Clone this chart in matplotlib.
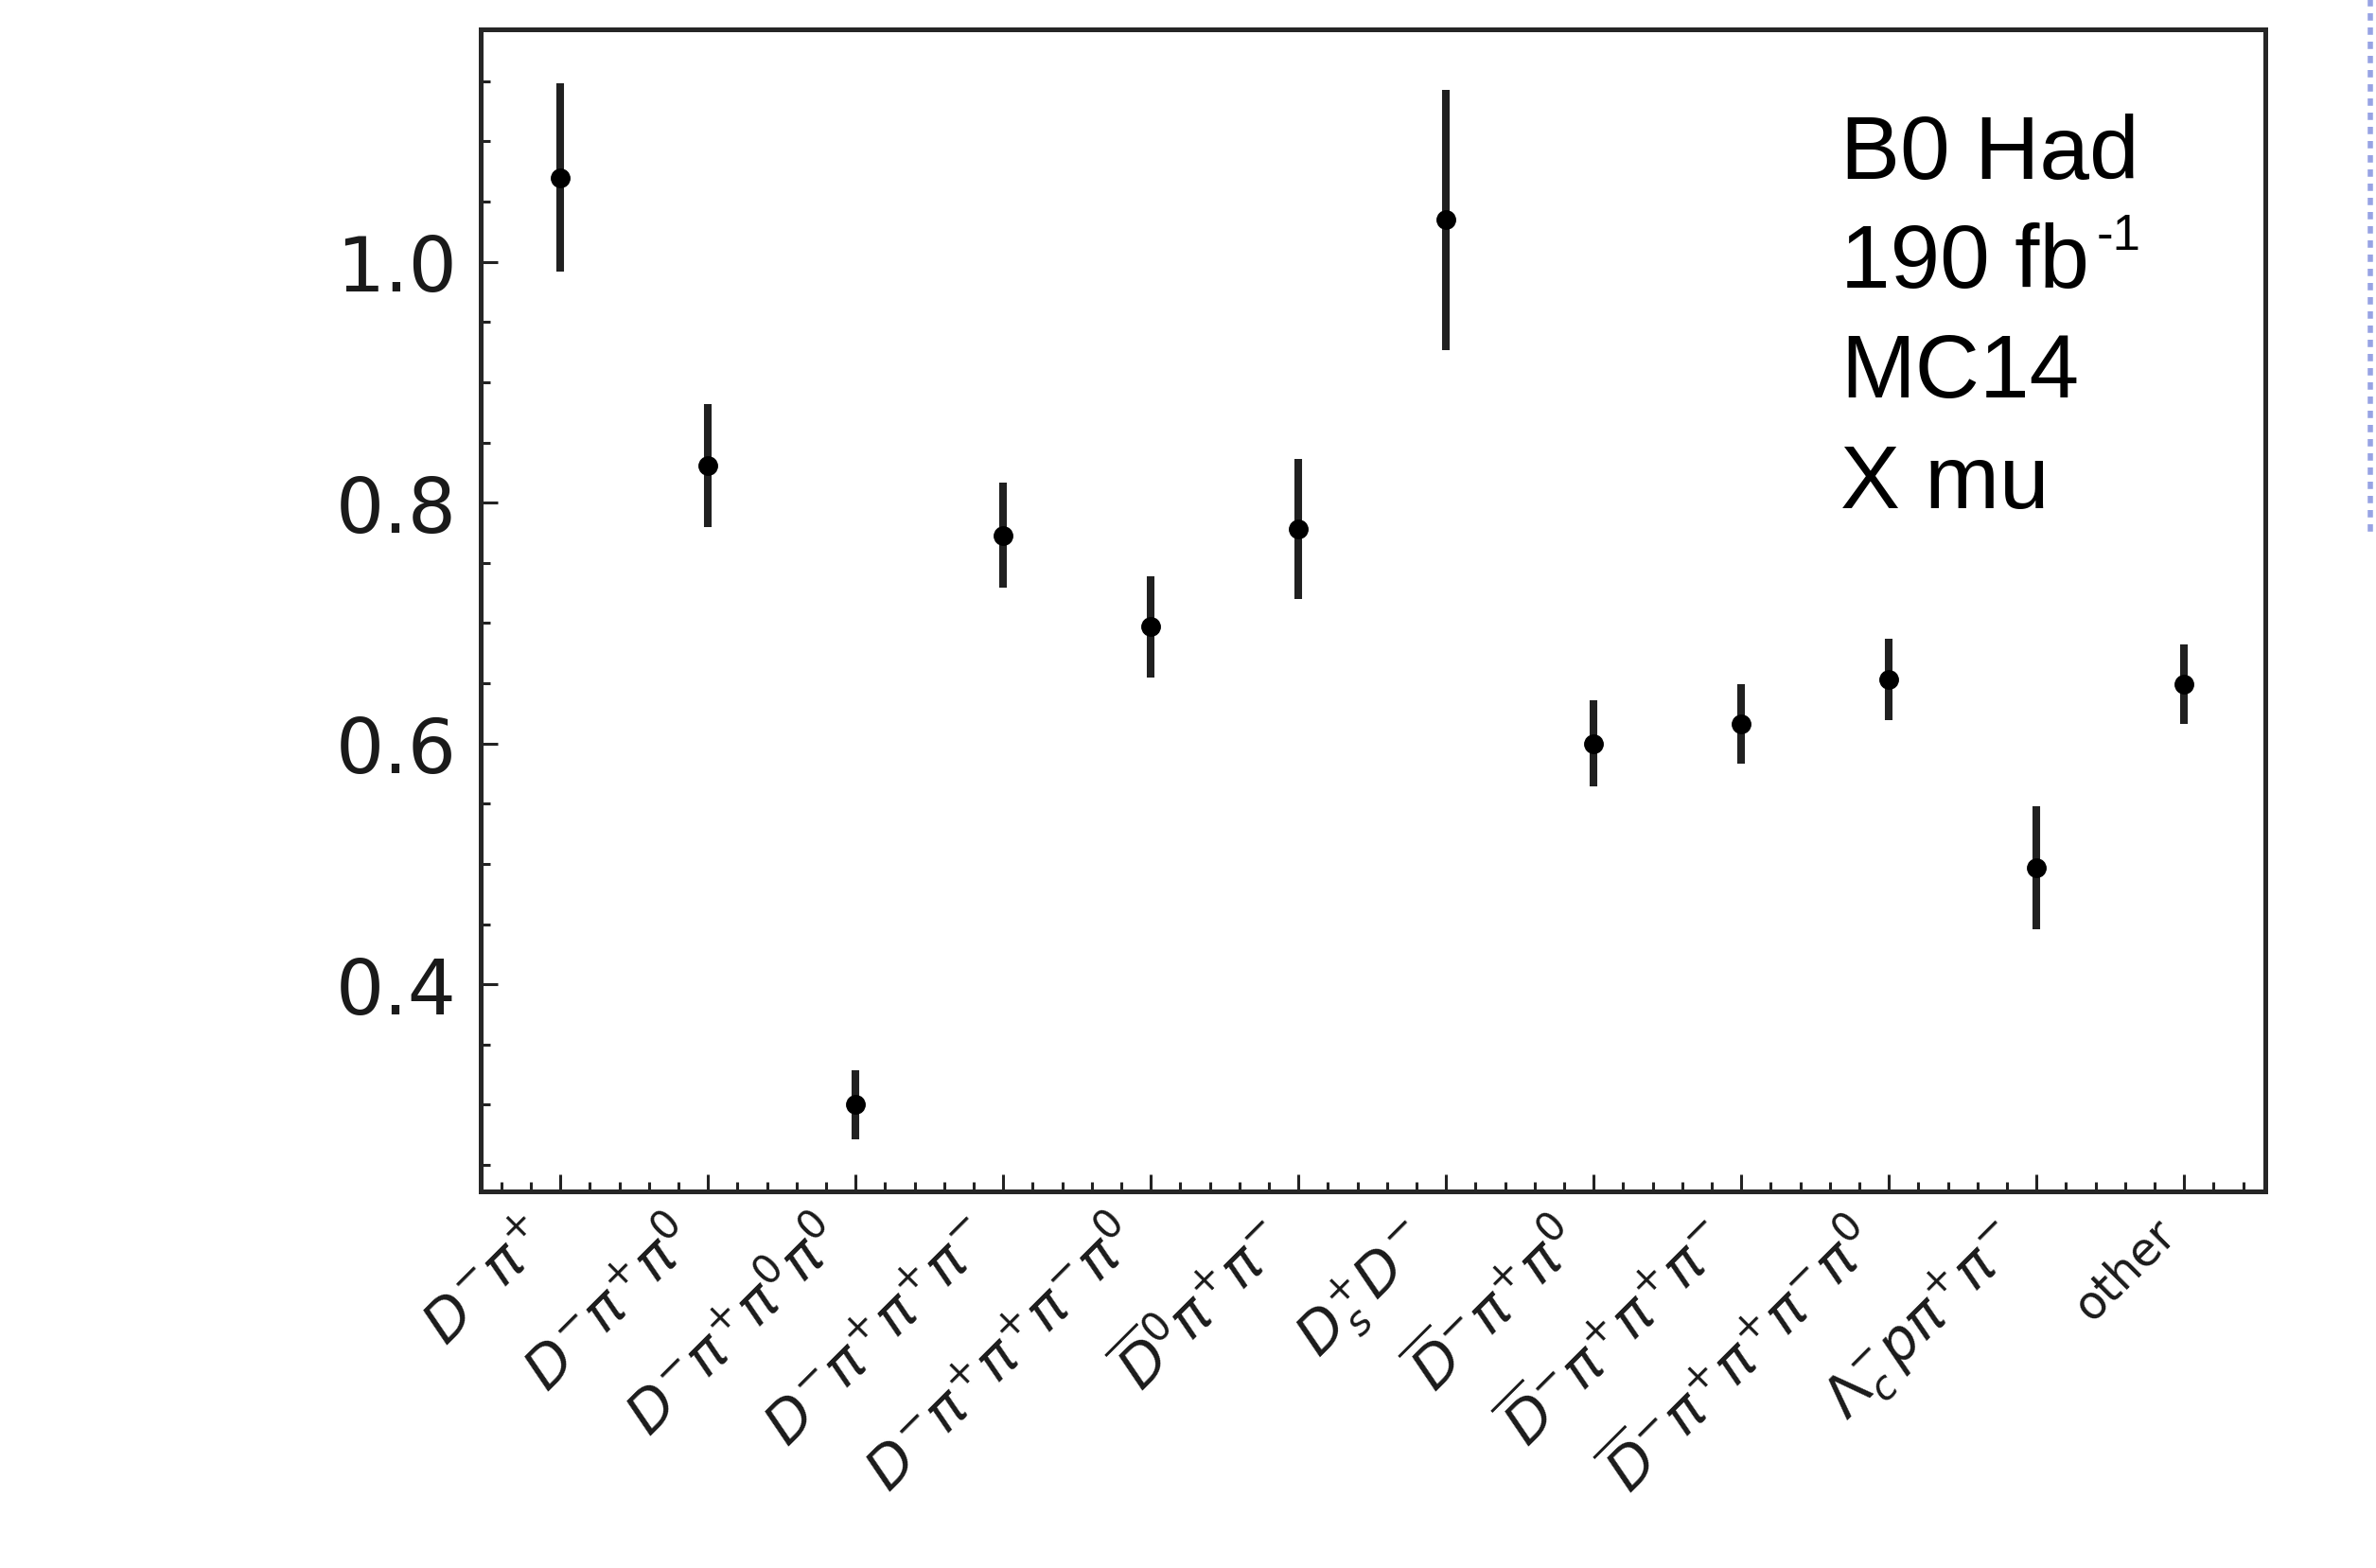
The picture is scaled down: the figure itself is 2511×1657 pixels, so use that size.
import numpy as np
import matplotlib.pyplot as plt
from matplotlib.ticker import MultipleLocator
from matplotlib.lines import Line2D

# B0 hadronic modes, data/MC ratio
modes = [r"$D^{-}\pi^{+}$", r"$D^{-}\pi^{+}\pi^{0}$", r"$D^{-}\pi^{+}\pi^{0}\pi^{0}$",
         r"$D^{-}\pi^{+}\pi^{+}\pi^{-}$", r"$D^{-}\pi^{+}\pi^{+}\pi^{-}\pi^{0}$",
         r"$\overline{D}^{0}\pi^{+}\pi^{-}$", r"$D_{s}^{+}D^{-}$",
         r"$\overline{D}^{-}\pi^{+}\pi^{0}$", r"$\overline{D}^{-}\pi^{+}\pi^{+}\pi^{-}$",
         r"$\overline{D}^{-}\pi^{+}\pi^{+}\pi^{-}\pi^{0}$", r"$\Lambda_{c}^{-}p\pi^{+}\pi^{-}$",
         "other"]
ratio = [1.070, 0.831, 0.300, 0.773, 0.697, 0.778, 1.035, 0.600, 0.616, 0.653, 0.497, 0.649]
err = [0.078, 0.051, 0.029, 0.044, 0.042, 0.058, 0.108, 0.036, 0.033, 0.034, 0.051, 0.033]

info = ["B0 Had", "190 fb", "MC14", "X mu"]
lumi_exp = "-1"

plt.rcParams['mathtext.fontset'] = 'dejavusans'

fig = plt.figure(figsize=(25.11, 16.58), dpi=100)
ax = fig.add_axes([0.2023, 0.2400, 0.7511, 0.7407])

x = np.arange(len(modes))
ax.errorbar(x, ratio, yerr=err, fmt='o', color='black', ecolor='#202020',
            elinewidth=5.8, markersize=14, capsize=0)

ax.set_xlim(-0.54, 11.55)
ax.set_ylim(0.228, 1.193)
ax.set_xticks(x)
ax.set_xticklabels(modes, rotation=45, ha='right', fontsize=43, color='#1a1a1a')
ax.get_xticklabels()[-1].set_fontsize(35)
ax.xaxis.set_minor_locator(MultipleLocator(0.2))
ax.yaxis.set_major_locator(MultipleLocator(0.2))
ax.yaxis.set_minor_locator(MultipleLocator(0.05))
ax.tick_params(which='both', direction='in', top=False, right=False, width=2.2, color='#222222')
ax.tick_params(which='major', length=13)
ax.tick_params(which='minor', length=7.5)
ax.tick_params(axis='y', labelsize=58, pad=18, labelcolor='#1a1a1a')
ax.tick_params(axis='x', pad=14)
for sp in ax.spines.values():
    sp.set_linewidth(3.6)
    sp.set_color('#262626')

# label block on the right
ys = [0.8860, 0.8166, 0.7467, 0.6761]
texts = []
for line, yy in zip(info, ys):
    texts.append(fig.text(0.7745, yy, line, fontsize=68, family='Liberation Sans',
                          va='baseline', color='black'))

# superscript of the luminosity unit, placed right after "fb"
renderer = fig.canvas.get_renderer()
bb = texts[1].get_window_extent(renderer)
W, H = fig.get_size_inches() * fig.dpi
fig.text(bb.x1 / W + 0.003, ys[1] + 0.024, lumi_exp, fontsize=38,
         family='Liberation Sans', va='baseline', color='black')

# dotted slide guide at the right edge
fig.add_artist(Line2D([0.9976, 0.9976], [1.0, 0.657], transform=fig.transFigure,
                      color='#97a3e4', lw=4, linestyle=(0, (1.4, 1.3))))

fig.savefig("out.png", dpi=100, facecolor='white')
